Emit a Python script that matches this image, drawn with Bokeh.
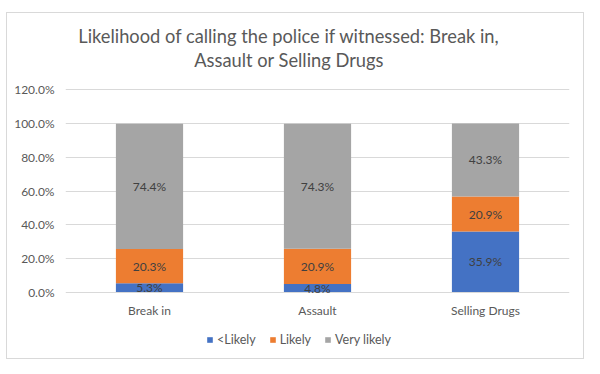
from bokeh.plotting import figure
from bokeh.models import (ColumnDataSource, NumeralTickFormatter, LabelSet, Label,
                          Legend, LegendItem, FixedTicker, Range1d)
from bokeh.core.properties import value
from bokeh.embed import file_html
from bokeh.resources import INLINE

categories = ["Break in", "Assault", "Selling Drugs"]
series_names = ["<Likely", "Likely", "Very likely"]
less_likely = [0.053, 0.048, 0.359]
likely = [0.203, 0.209, 0.209]
very_likely = [0.744, 0.743, 0.433]
y_ticks = [0.0, 0.2, 0.4, 0.6, 0.8, 1.0, 1.2]
colors = ["#4472C4", "#ED7D31", "#A5A5A5"]
title_lines = ["Likelihood of calling the police if witnessed: Break in,",
               "Assault or Selling Drugs"]

FONT = "Lato"
TXT = "#595959"

# frame spans the whole chart area; the value axis only ticks 0..120%
p = figure(x_range=categories, y_range=Range1d(-0.406, 1.6537), width=578, height=347,
           output_backend="svg", toolbar_location=None, title=None,
           min_border_left=58, min_border_right=16, min_border_top=0, min_border_bottom=0,
           styles={"border": "1px solid #D9D9D9", "box-sizing": "border-box",
                   "margin-top": "12px", "margin-left": "6px"})
p.outline_line_color = None
p.background_fill_color = "white"

src = ColumnDataSource(dict(cat=categories, s0=less_likely, s1=likely, s2=very_likely))
keys = ["s0", "s1", "s2"]
rs = p.vbar_stack(keys, x="cat", width=0.4, color=colors, source=src, line_color=None)

# data labels at segment midpoints
lab_x, lab_y, lab_t = [], [], []
for i, c in enumerate(categories):
    base = 0.0
    for vals in (less_likely, likely, very_likely):
        v = vals[i]
        lab_x.append(c)
        lab_y.append(base + v / 2)
        lab_t.append(f"{v*100:.1f}%")
        base += v
lsrc = ColumnDataSource(dict(x=lab_x, y=lab_y, t=lab_t))
p.add_layout(LabelSet(x="x", y="y", text="t", source=lsrc, text_align="center",
                      text_baseline="middle", text_font=value(FONT), text_font_size=value("12px"),
                      text_color=value("#404040")))

# category labels under the bars
csrc = ColumnDataSource(dict(x=categories, t=categories))
p.add_layout(LabelSet(x="x", y=-0.1373, text="t", source=csrc, text_align="center",
                      text_baseline="alphabetic", text_font=value(FONT),
                      text_font_size=value("12px"), text_color=value(TXT)))
p.xaxis.visible = False

# value axis
p.yaxis.ticker = FixedTicker(ticks=y_ticks)
p.yaxis.formatter = NumeralTickFormatter(format="0.0%")
p.yaxis.axis_line_color = None
p.yaxis.major_tick_line_color = None
p.yaxis.minor_tick_line_color = None
p.yaxis.major_tick_out = 0
p.yaxis.major_tick_in = 0
p.yaxis.major_label_standoff = 11
p.yaxis.major_label_text_font = FONT
p.yaxis.major_label_text_font_size = "12px"
p.yaxis.major_label_text_color = TXT
p.xgrid.grid_line_color = None
p.ygrid.grid_line_color = "#D9D9D9"
p.ygrid.grid_line_width = 1

# two-line title (screen units from the frame's bottom-left corner)
for line, yy in zip(title_lines, [325.0, 301.0]):
    p.add_layout(Label(x=223.5, y=yy, x_units="screen", y_units="screen", text=line,
                       text_align="center", text_baseline="alphabetic",
                       text_font=FONT, text_font_size="18.3px", text_color=TXT))

legend = Legend(items=[LegendItem(label=n, renderers=[r]) for n, r in zip(series_names, rs)],
                orientation="horizontal", location=(141, 13), border_line_color=None,
                background_fill_alpha=0, padding=0, margin=0, spacing=13,
                glyph_width=7, glyph_height=7, label_standoff=4, label_height=14,
                label_text_font=FONT, label_text_font_size="12.5px", label_text_color=TXT)
p.add_layout(legend, "center")

open("out.html", "w").write(file_html(p, INLINE))
